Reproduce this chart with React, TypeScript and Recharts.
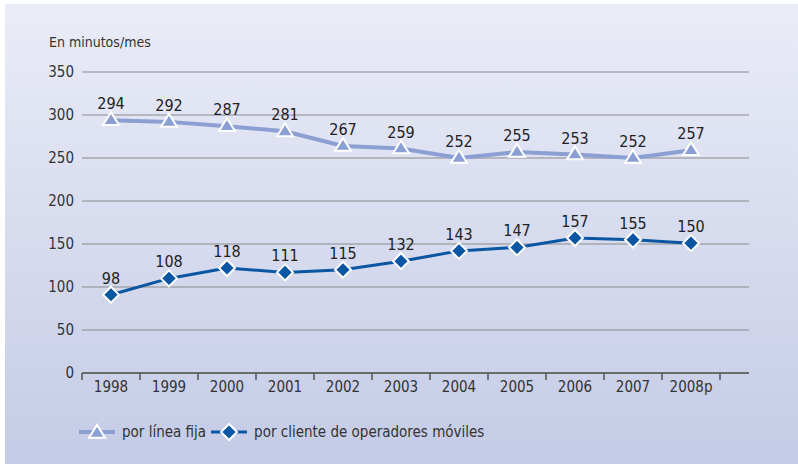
import { LineChart, Line, XAxis, YAxis, CartesianGrid, LabelList, Legend } from "recharts";

const years = ["1998", "1999", "2000", "2001", "2002", "2003", "2004", "2005", "2006", "2007", "2008p"];
// plotted positions; printed labels kept apart
const fijaValues = [294, 292, 287, 281, 264, 261, 250, 257, 254, 250, 259];
const fijaLabels = [294, 292, 287, 281, 267, 259, 252, 255, 253, 252, 257];
const movilValues = [91, 110, 122, 117, 120, 130, 142, 146, 157, 155, 151];
const movilLabels = [98, 108, 118, 111, 115, 132, 143, 147, 157, 155, 150];
const yTicks = [0, 50, 100, 150, 200, 250, 300, 350];

const FONT = "'DejaVu Sans Condensed', 'Liberation Sans Narrow', Arial, sans-serif";
const FIJA = "#8c9fd3";
const MOVIL = "#0a56a2";
const X_SPAN = years.length + 0.5;

const data = years.map((y, i) => ({
  x: i + 0.5,
  year: y,
  fija: fijaValues[i],
  fijaLabel: fijaLabels[i],
  movil: movilValues[i],
  movilLabel: movilLabels[i],
}));

const bandTicks = years.map((_, i) => i);
bandTicks.push(years.length);

function Triangle(props: any) {
  const { cx, cy } = props;
  if (cx == null || cy == null) return null;
  const r = 8;
  return (
    <polygon
      points={`${cx},${cy - r} ${cx - r},${cy + r * 0.6} ${cx + r},${cy + r * 0.6}`}
      fill={FIJA}
      stroke="#fff"
      strokeWidth={2}
    />
  );
}

function Diamond(props: any) {
  const { cx, cy } = props;
  if (cx == null || cy == null) return null;
  const r = 8;
  return (
    <polygon
      points={`${cx},${cy - r} ${cx + r},${cy} ${cx},${cy + r} ${cx - r},${cy}`}
      fill={MOVIL}
      stroke="#fff"
      strokeWidth={2}
    />
  );
}

// tick mark on each band edge, year label centred in the band to its right
function YearTick(props: any) {
  const { x, y, width, payload } = props;
  const half = width / X_SPAN / 2;
  const label = years[payload.value];
  return (
    <g>
      <line x1={x} x2={x} y1={y} y2={y + 7} stroke="#555" strokeWidth={1.5} />
      {label && (
        <text x={x + half} y={y + 8} dy="0.71em" textAnchor="middle" fill="#333" fontSize={15} fontFamily={FONT}>
          {label}
        </text>
      )}
    </g>
  );
}

function LegendContent() {
  const item = (color: string, marker: "tri" | "dia", text: string) => (
    <div style={{ display: "flex", alignItems: "center", marginRight: 4 }}>
      <svg width={38} height={20}>
        <line x1={1} y1={10} x2={37} y2={10} stroke={color} strokeWidth={marker === "tri" ? 4 : 3} />
        {marker === "tri" ? <Triangle cx={19} cy={11} /> : <Diamond cx={19} cy={10} />}
      </svg>
      <span style={{ marginLeft: 6, fontSize: 15, color: "#333" }}>{text}</span>
    </div>
  );
  return (
    <div style={{ display: "flex", fontFamily: FONT }}>
      {item(FIJA, "tri", "por línea fija")}
      {item(MOVIL, "dia", "por cliente de operadores móviles")}
    </div>
  );
}

export default function App() {
  return (
    <div style={{ position: "absolute", left: 0, top: 0, width: 798, height: 464, background: "#fff", fontFamily: FONT }}>
      <div
        style={{
          position: "absolute",
          left: 5,
          top: 4,
          right: 0,
          bottom: 0,
          background: "linear-gradient(to bottom, #eaecf7, #c4cbe6)",
        }}
      />
      <div style={{ position: "absolute", left: 49, top: 34, fontSize: 14, color: "#333" }}>En minutos/mes</div>
      <div style={{ position: "absolute", left: 0, top: 0 }}>
        <LineChart width={798} height={464} data={data} margin={{ top: 72, right: 49, left: 8, bottom: 40 }}>
          <CartesianGrid horizontal vertical={false} stroke="#8a8a8a" />
          <XAxis
            dataKey="x"
            type="number"
            domain={[0, X_SPAN]}
            ticks={bandTicks}
            tick={<YearTick />}
            tickSize={0}
            tickMargin={0}
            tickLine={false}
            interval={0}
            height={31}
            axisLine={{ stroke: "#555", strokeWidth: 1.5 }}
          />
          <YAxis
            domain={[0, 350]}
            ticks={yTicks}
            width={74}
            axisLine={false}
            tickLine={false}
            tick={{ fill: "#333", fontSize: 15, fontFamily: FONT }}
          />
          <Legend
            verticalAlign="bottom"
            align="left"
            content={<LegendContent />}
            wrapperStyle={{ left: 78, bottom: 22, width: 500 }}
          />
          <Line
            dataKey="fija"
            stroke={FIJA}
            strokeWidth={4}
            dot={<Triangle />}
            activeDot={false}
            isAnimationActive={false}
          >
            <LabelList dataKey="fijaLabel" position="top" offset={11} fill="#222" fontSize={16} fontFamily={FONT} />
          </Line>
          <Line
            dataKey="movil"
            stroke={MOVIL}
            strokeWidth={3}
            dot={<Diamond />}
            activeDot={false}
            isAnimationActive={false}
          >
            <LabelList dataKey="movilLabel" position="top" offset={11} fill="#222" fontSize={16} fontFamily={FONT} />
          </Line>
        </LineChart>
      </div>
    </div>
  );
}
